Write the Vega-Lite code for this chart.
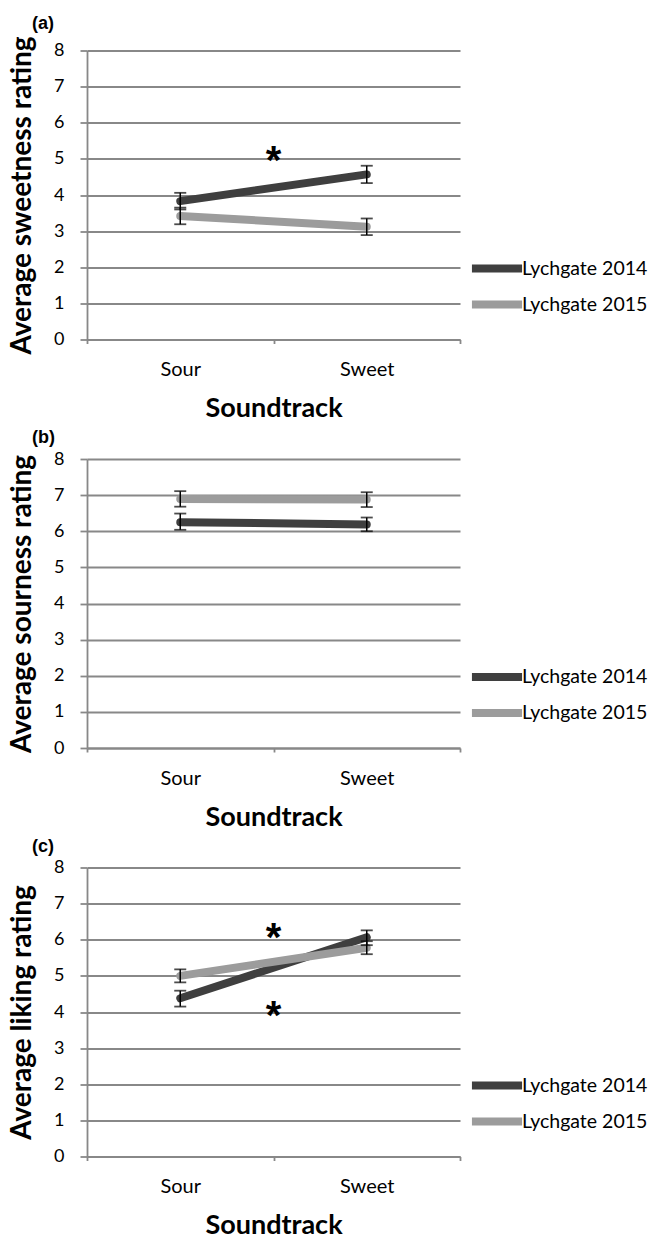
{
  "$schema": "https://vega.github.io/schema/vega-lite/v6.json",
  "padding": {"left": 8, "top": 14.5, "right": 0, "bottom": 0},
  "background": "white",
  "datasets": {
    "ratings": [
      {"measure": "sweetness", "soundtrack": "Sour", "series": "Lychgate 2014", "mean": 3.83, "lo": 3.60, "hi": 4.06},
      {"measure": "sweetness", "soundtrack": "Sweet", "series": "Lychgate 2014", "mean": 4.57, "lo": 4.33, "hi": 4.81},
      {"measure": "sweetness", "soundtrack": "Sour", "series": "Lychgate 2015", "mean": 3.42, "lo": 3.19, "hi": 3.65},
      {"measure": "sweetness", "soundtrack": "Sweet", "series": "Lychgate 2015", "mean": 3.12, "lo": 2.89, "hi": 3.35},
      {"measure": "sourness", "soundtrack": "Sour", "series": "Lychgate 2014", "mean": 6.25, "lo": 6.04, "hi": 6.49},
      {"measure": "sourness", "soundtrack": "Sweet", "series": "Lychgate 2014", "mean": 6.19, "lo": 6.00, "hi": 6.38},
      {"measure": "sourness", "soundtrack": "Sour", "series": "Lychgate 2015", "mean": 6.89, "lo": 6.68, "hi": 7.11},
      {"measure": "sourness", "soundtrack": "Sweet", "series": "Lychgate 2015", "mean": 6.88, "lo": 6.67, "hi": 7.08},
      {"measure": "liking", "soundtrack": "Sour", "series": "Lychgate 2014", "mean": 4.38, "lo": 4.15, "hi": 4.59},
      {"measure": "liking", "soundtrack": "Sweet", "series": "Lychgate 2014", "mean": 6.07, "lo": 5.85, "hi": 6.26},
      {"measure": "liking", "soundtrack": "Sour", "series": "Lychgate 2015", "mean": 5.00, "lo": 4.82, "hi": 5.18},
      {"measure": "liking", "soundtrack": "Sweet", "series": "Lychgate 2015", "mean": 5.78, "lo": 5.60, "hi": 5.96}
    ],
    "stars": [
      {"measure": "sweetness", "between": "Sour", "y": 5.17, "label": "*"},
      {"measure": "liking", "between": "Sour", "y": 6.27, "label": "*"},
      {"measure": "liking", "between": "Sour", "y": 4.12, "label": "*"}
    ]
  },
  "config": {
    "font": "Lato",
    "view": {"stroke": null},
    "concat": {"spacing": 7.5},
    "axis": {
      "domainColor": "#888888", "domainWidth": 1.8,
      "tickColor": "#888888", "tickWidth": 1.8,
      "labelColor": "black", "titleColor": "black",
      "labelFont": "Lato", "titleFont": "Lato",
      "titleFontWeight": "bold"
    },
    "axisX": {"labelFontSize": 20, "labelAngle": 0, "tickSize": 4, "labelPadding": 16, "titlePadding": 16, "titleFontSize": 27, "tickBand": "extent", "grid": false},
    "axisY": {"labelFontSize": 18, "tickSize": 7, "labelPadding": 16, "titlePadding": 17, "titleFontSize": 28, "tickCount": 8, "labelOverlap": false, "gridColor": "#888888", "gridWidth": 1.8, "gridOpacity": 1},
    "legend": {
      "orient": "none", "legendX": 392, "legendY": 200, "title": null,
      "symbolType": "M-1.79,0H1.79", "symbolSize": 784, "symbolStrokeWidth": 8,
      "labelFontSize": 19.5, "labelFont": "Lato", "labelColor": "black", "labelOffset": 7,
      "rowPadding": 2, "padding": 0, "symbolOffset": 0
    },
    "title": {"anchor": "start", "fontSize": 18, "font": "Liberation Sans", "fontWeight": "bold", "frame": "group", "dx": -55, "offset": 3, "color": "black"}
  },
  "resolve": {"scale": {"color": "independent"}, "legend": {"color": "independent"}},
  "vconcat": [
    {
      "title": "(a)",
      "width": 373, "height": 289,
      "layer": [
        {
          "data": {"name": "ratings"},
          "transform": [{"filter": "datum.measure === 'sweetness'"}],
          "mark": {"type": "line", "strokeWidth": 8, "strokeCap": "round"},
          "encoding": {
            "x": {"field": "soundtrack", "type": "nominal", "scale": {"type": "band", "domain": ["Sour", "Sweet"], "paddingInner": 0, "paddingOuter": 0}, "axis": {"title": "Soundtrack"}},
            "y": {"field": "mean", "type": "quantitative", "scale": {"domain": [0, 8]}, "axis": {"title": "Average sweetness rating"}},
            "color": {"field": "series", "type": "nominal", "scale": {"domain": ["Lychgate 2014", "Lychgate 2015"], "range": ["#3f3f3f", "#9c9c9c"]}}
          }
        },
        {
          "data": {"name": "ratings"},
          "transform": [{"filter": "datum.measure === 'sweetness'"}],
          "mark": {"type": "rule", "color": "black", "strokeWidth": 1.5},
          "encoding": {
            "x": {"field": "soundtrack", "type": "nominal"},
            "y": {"field": "lo", "type": "quantitative"},
            "y2": {"field": "hi"}
          }
        },
        {
          "data": {"name": "ratings"},
          "transform": [{"filter": "datum.measure === 'sweetness'"}],
          "mark": {"type": "tick", "color": "black", "size": 12, "thickness": 1.8},
          "encoding": {
            "x": {"field": "soundtrack", "type": "nominal"},
            "y": {"field": "lo", "type": "quantitative"}
          }
        },
        {
          "data": {"name": "ratings"},
          "transform": [{"filter": "datum.measure === 'sweetness'"}],
          "mark": {"type": "tick", "color": "black", "size": 12, "thickness": 1.8},
          "encoding": {
            "x": {"field": "soundtrack", "type": "nominal"},
            "y": {"field": "hi", "type": "quantitative"}
          }
        },
        {
          "data": {"name": "stars"},
          "transform": [{"filter": "datum.measure === 'sweetness'"}],
          "mark": {"type": "text", "font": "Liberation Sans", "fontWeight": "bold", "fontSize": 40, "baseline": "middle", "dy": 9, "color": "black"},
          "encoding": {
            "x": {"field": "between", "type": "nominal", "bandPosition": 1},
            "y": {"field": "y", "type": "quantitative"},
            "text": {"field": "label"}
          }
        }
      ]
    },
    {
      "title": "(b)",
      "width": 373, "height": 289,
      "layer": [
        {
          "data": {"name": "ratings"},
          "transform": [{"filter": "datum.measure === 'sourness'"}],
          "mark": {"type": "line", "strokeWidth": 8, "strokeCap": "round"},
          "encoding": {
            "x": {"field": "soundtrack", "type": "nominal", "scale": {"type": "band", "domain": ["Sour", "Sweet"], "paddingInner": 0, "paddingOuter": 0}, "axis": {"title": "Soundtrack"}},
            "y": {"field": "mean", "type": "quantitative", "scale": {"domain": [0, 8]}, "axis": {"title": "Average sourness rating"}},
            "color": {"field": "series", "type": "nominal", "scale": {"domain": ["Lychgate 2014", "Lychgate 2015"], "range": ["#3f3f3f", "#9c9c9c"]}}
          }
        },
        {
          "data": {"name": "ratings"},
          "transform": [{"filter": "datum.measure === 'sourness'"}],
          "mark": {"type": "rule", "color": "black", "strokeWidth": 1.5},
          "encoding": {
            "x": {"field": "soundtrack", "type": "nominal"},
            "y": {"field": "lo", "type": "quantitative"},
            "y2": {"field": "hi"}
          }
        },
        {
          "data": {"name": "ratings"},
          "transform": [{"filter": "datum.measure === 'sourness'"}],
          "mark": {"type": "tick", "color": "black", "size": 12, "thickness": 1.8},
          "encoding": {
            "x": {"field": "soundtrack", "type": "nominal"},
            "y": {"field": "lo", "type": "quantitative"}
          }
        },
        {
          "data": {"name": "ratings"},
          "transform": [{"filter": "datum.measure === 'sourness'"}],
          "mark": {"type": "tick", "color": "black", "size": 12, "thickness": 1.8},
          "encoding": {
            "x": {"field": "soundtrack", "type": "nominal"},
            "y": {"field": "hi", "type": "quantitative"}
          }
        }
      ]
    },
    {
      "title": "(c)",
      "width": 373, "height": 289,
      "layer": [
        {
          "data": {"name": "ratings"},
          "transform": [{"filter": "datum.measure === 'liking'"}],
          "mark": {"type": "line", "strokeWidth": 8, "strokeCap": "round"},
          "encoding": {
            "x": {"field": "soundtrack", "type": "nominal", "scale": {"type": "band", "domain": ["Sour", "Sweet"], "paddingInner": 0, "paddingOuter": 0}, "axis": {"title": "Soundtrack"}},
            "y": {"field": "mean", "type": "quantitative", "scale": {"domain": [0, 8]}, "axis": {"title": "Average liking rating"}},
            "color": {"field": "series", "type": "nominal", "scale": {"domain": ["Lychgate 2014", "Lychgate 2015"], "range": ["#3f3f3f", "#9c9c9c"]}}
          }
        },
        {
          "data": {"name": "ratings"},
          "transform": [{"filter": "datum.measure === 'liking'"}],
          "mark": {"type": "rule", "color": "black", "strokeWidth": 1.5},
          "encoding": {
            "x": {"field": "soundtrack", "type": "nominal"},
            "y": {"field": "lo", "type": "quantitative"},
            "y2": {"field": "hi"}
          }
        },
        {
          "data": {"name": "ratings"},
          "transform": [{"filter": "datum.measure === 'liking'"}],
          "mark": {"type": "tick", "color": "black", "size": 12, "thickness": 1.8},
          "encoding": {
            "x": {"field": "soundtrack", "type": "nominal"},
            "y": {"field": "lo", "type": "quantitative"}
          }
        },
        {
          "data": {"name": "ratings"},
          "transform": [{"filter": "datum.measure === 'liking'"}],
          "mark": {"type": "tick", "color": "black", "size": 12, "thickness": 1.8},
          "encoding": {
            "x": {"field": "soundtrack", "type": "nominal"},
            "y": {"field": "hi", "type": "quantitative"}
          }
        },
        {
          "data": {"name": "stars"},
          "transform": [{"filter": "datum.measure === 'liking'"}],
          "mark": {"type": "text", "font": "Liberation Sans", "fontWeight": "bold", "fontSize": 40, "baseline": "middle", "dy": 9, "color": "black"},
          "encoding": {
            "x": {"field": "between", "type": "nominal", "bandPosition": 1},
            "y": {"field": "y", "type": "quantitative"},
            "text": {"field": "label"}
          }
        }
      ]
    }
  ]
}
